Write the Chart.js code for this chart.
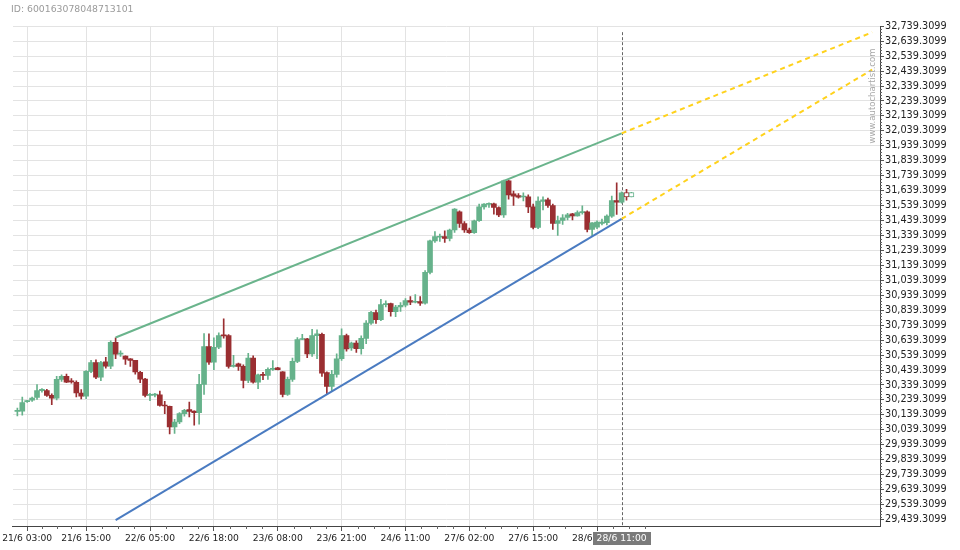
<!DOCTYPE html>
<html>
<head>
<meta charset="utf-8">
<script src="https://cdn.jsdelivr.net/npm/chart.js@4.4.1/dist/chart.umd.min.js"></script>
<style>
  html, body { margin: 0; padding: 0; background: #fff; }
  #wrap { width: 960px; height: 550px; }
</style>
</head>
<body>
<div id="wrap"><canvas id="myChart" width="960" height="550"></canvas></div>
<script>
// hourly candles, index 0 = 21/6 01:00
const opens = [30163,30165,30228,30237,30257,30302,30302,30270,30252,30377,30397,30364,30357,30286,30264,30430,30490,30392,30495,30466,
  30624,30546,30532,30515,30504,30424,30379,30270,30272,30274,30203,30197,30059,30092,30148,30175,30165,30155,30344,30597,
  30492,30592,30673,30670,30464,30481,30464,30370,30519,30359,30410,30404,30443,30454,30428,30277,30377,30497,30644,30648,
  30548,30670,30679,30422,30330,30410,30515,30670,30588,30619,30582,30651,30753,30824,30777,30877,30884,30830,30861,30873,
  30904,30893,30897,30886,31093,31304,31328,31333,31320,31376,31498,31420,31376,31358,31438,31531,31548,31552,31527,31478,
  31705,31618,31607,31597,31598,31531,31393,31568,31578,31540,31420,31440,31460,31484,31470,31492,31498,31380,31396,31420,
  31425,31469,31573,31563,31627,31598];
const highs = [30185,30259,30236,30259,30342,30315,30310,30281,30397,30408,30412,30382,30368,30308,30435,30504,30508,30497,30524,30635,
  30655,30568,30534,30516,30505,30430,30384,30284,30284,30299,30230,30198,30110,30155,30177,30225,30166,30410,30684,30682,
  30655,30689,30782,30677,30537,30486,30475,30552,30535,30412,30424,30455,30502,30457,30429,30392,30519,30657,30679,30652,
  30711,30709,30686,30428,30437,30548,30715,30680,30626,30635,30669,30771,30833,30840,30913,30903,30887,30873,30891,30917,
  30931,30944,30931,31104,31309,31365,31349,31371,31383,31520,31505,31433,31389,31443,31549,31553,31558,31556,31532,31710,
  31710,31636,31620,31625,31612,31549,31598,31598,31590,31549,31470,31480,31487,31487,31504,31538,31505,31426,31438,31449,
  31478,31603,31692,31631,31649,31628];
const lows = [30132,30137,30222,30230,30243,30292,30263,30208,30239,30364,30355,30352,30259,30246,30248,30422,30382,30368,30452,30448,
  30515,30530,30477,30464,30412,30355,30259,30235,30259,30197,30148,30012,30015,30081,30130,30125,30070,30077,30277,30477,
  30442,30582,30652,30452,30459,30437,30319,30355,30352,30315,30375,30377,30437,30440,30259,30270,30364,30488,30642,30522,
  30530,30515,30397,30282,30299,30392,30504,30566,30570,30558,30546,30615,30744,30752,30769,30862,30800,30797,30831,30861,
  30877,30889,30871,30880,31083,31294,31300,31293,31304,31360,31393,31360,31354,31354,31433,31516,31527,31483,31465,31460,
  31583,31540,31590,31570,31493,31383,31385,31510,31527,31380,31340,31413,31443,31443,31468,31482,31363,31331,31385,31411,
  31411,31460,31480,31556,31576,31597];
const closes = [30170,30221,30232,30252,30302,30310,30270,30252,30377,30397,30359,30360,30286,30264,30430,30490,30392,30490,30466,30624,
  30546,30550,30512,30504,30426,30379,30270,30274,30274,30203,30199,30059,30092,30148,30170,30163,30155,30344,30597,30492,
  30592,30670,30668,30464,30468,30464,30370,30519,30359,30408,30404,30444,30450,30442,30277,30377,30497,30644,30648,30548,
  30670,30682,30419,30330,30410,30515,30670,30580,30619,30582,30651,30753,30826,30777,30877,30884,30830,30861,30873,30904,
  30893,30897,30886,31093,31304,31333,31333,31320,31376,31516,31420,31376,31358,31438,31531,31549,31552,31527,31478,31705,
  31611,31603,31596,31602,31531,31393,31570,31578,31540,31420,31440,31458,31478,31470,31492,31497,31380,31425,31429,31429,
  31469,31573,31563,31625,31598,31627];
const liveFrom = 124; // candles still forming, drawn hollow

const xTickIdx = [2, 14, 27, 40, 53, 66, 79, 92, 105, 118];
const xTickLabels = ['21/6 03:00','21/6 15:00','22/6 05:00','22/6 18:00','23/6 08:00','23/6 21:00','24/6 11:00','27/6 02:00','27/6 15:00','28/6 06:00'];
const yTickVals = [29439.3099,29539.3099,29639.3099,29739.3099,29839.3099,29939.3099,30039.3099,30139.3099,30239.3099,30339.3099,
  30439.3099,30539.3099,30639.3099,30739.3099,30839.3099,30939.3099,31039.3099,31139.3099,31239.3099,31339.3099,
  31439.3099,31539.3099,31639.3099,31739.3099,31839.3099,31939.3099,32039.3099,32139.3099,32239.3099,32339.3099,
  32439.3099,32539.3099,32639.3099,32739.3099];

const upperLine = [[20, 30657], [123, 32023]];
const upperProj = [[123, 32023], [174, 32699]];
const lowerLine = [[20, 29436], [123, 31451]];
const lowerProj = [[123, 31451], [174, 32449]];

const cursorIdx = 123;
const cursorLabel = '28/6 11:00';
const chartId = 'ID: 600163078048713101';
const watermark = 'www.autochartist.com';

const UP = '#66b28b';
const DOWN = '#9a2e31';
const FONT = 'DejaVu Sans';

const isUp = (i) => closes[i] >= opens[i];
const candleColor = (i) => isUp(i) ? UP : DOWN;

const wickData = opens.map((o, i) => ({x: i, y: [lows[i], highs[i]]}));
const bodyData = opens.map((o, i) => ({x: i, y: [o, closes[i]]}));
const pts = (arr) => arr.map(p => ({x: p[0], y: p[1]}));

const decor = {
  id: 'decor',
  beforeDatasetsDraw(chart) {
    const {ctx, chartArea, scales} = chart;
    const x = Math.round(scales.x.getPixelForValue(cursorIdx)) + 0.5;
    ctx.save();
    ctx.strokeStyle = '#666';
    ctx.lineWidth = 1;
    ctx.setLineDash([3, 2]);
    ctx.beginPath();
    ctx.moveTo(x, chartArea.top + 6);
    ctx.lineTo(x, chartArea.bottom);
    ctx.stroke();
    ctx.restore();
  },
  afterDraw(chart) {
    const {ctx, chartArea, scales} = chart;
    const xs = scales.x, ys = scales.y;
    ctx.save();
    ctx.strokeStyle = '#666';
    ctx.lineWidth = 1;
    ctx.beginPath();
    // minor ticks on time axis
    for (let k = 0; k < xTickIdx.length; k++) {
      const a = xTickIdx[k];
      const b = k + 1 < xTickIdx.length ? xTickIdx[k + 1] : a + 13;
      for (let j = 1; j < 4; j++) {
        const px = Math.round(xs.getPixelForValue(a + (b - a) * j / 4)) + 0.5;
        ctx.moveTo(px, chartArea.bottom);
        ctx.lineTo(px, chartArea.bottom + 3);
      }
    }
    // minor ticks on price axis
    for (let k = 0; k < yTickVals.length - 1; k++) {
      for (let j = 1; j < 5; j++) {
        const py = Math.round(ys.getPixelForValue(yTickVals[k] + 20 * j)) + 0.5;
        ctx.moveTo(chartArea.right, py);
        ctx.lineTo(chartArea.right + 2, py);
      }
    }
    ctx.stroke();

    // current time box on the axis
    const cx = xs.getPixelForValue(cursorIdx);
    ctx.font = '9.2px ' + FONT;
    const w = ctx.measureText(cursorLabel).width + 8;
    ctx.fillStyle = '#7a7a7a';
    ctx.fillRect(Math.round(cx - w / 2), chartArea.bottom + 6, Math.round(w), 13);
    ctx.fillStyle = '#fff';
    ctx.textAlign = 'center';
    ctx.textBaseline = 'middle';
    ctx.fillText(cursorLabel, cx, chartArea.bottom + 13);

    // watermark
    ctx.translate(chartArea.right - 7, 96);
    ctx.rotate(-Math.PI / 2);
    ctx.font = '8.5px ' + FONT;
    ctx.fillStyle = '#a8a8a8';
    ctx.fillText(watermark, 0, 0);
    ctx.restore();
  }
};

new Chart(document.getElementById('myChart'), {
  type: 'bar',
  data: {
    datasets: [
      {
        type: 'line', data: pts(upperLine), borderColor: '#6ab48c', borderWidth: 2,
        pointRadius: 0, order: 0
      },
      {
        type: 'line', data: pts(lowerLine), borderColor: '#4a7bc1', borderWidth: 2,
        pointRadius: 0, order: 0
      },
      {
        type: 'line', data: pts(upperProj), borderColor: '#ffd21c', borderWidth: 2,
        borderDash: [5, 4], pointRadius: 0, order: 0
      },
      {
        type: 'line', data: pts(lowerProj), borderColor: '#ffd21c', borderWidth: 2,
        borderDash: [5, 4], pointRadius: 0, order: 0
      },
      {
        data: bodyData, order: 1, grouped: false, barThickness: 5, minBarLength: 1,
        backgroundColor: (c) => c.dataIndex >= liveFrom ? '#fff' : candleColor(c.dataIndex),
        borderColor: (c) => candleColor(c.dataIndex),
        borderWidth: (c) => c.dataIndex >= liveFrom ? 1 : 0,
        borderSkipped: false
      },
      {
        data: wickData, order: 2, grouped: false, barThickness: 1,
        backgroundColor: (c) => candleColor(c.dataIndex),
        borderWidth: 0
      }
    ]
  },
  options: {
    responsive: false,
    animation: false,
    layout: { padding: { left: 11, right: 0, top: 0, bottom: 0 } },
    plugins: {
      legend: { display: false },
      tooltip: { enabled: false },
      title: {
        display: true, text: chartId, align: 'start', color: '#9a9a9a',
        font: { family: FONT, size: 9.3, weight: 'normal' },
        padding: { top: 4, bottom: 11 }
      }
    },
    scales: {
      x: {
        type: 'linear', min: -0.89, max: 175.6, offset: false,
        grid: { color: '#e3e3e3', tickLength: 5, tickColor: '#555', offset: false },
        border: { color: '#444' },
        ticks: {
          autoSkip: false, maxRotation: 0, color: '#222', padding: 2,
          font: { family: FONT, size: 9.2 },
          callback: (v, i) => xTickLabels[i]
        },
        afterBuildTicks: (s) => { s.ticks = xTickIdx.map(v => ({value: v})); },
        afterFit: (s) => { s.height = 24; }
      },
      y: {
        type: 'linear', position: 'right', min: 29396, max: 32740,
        grid: { color: '#e3e3e3', tickLength: 4, tickColor: '#555' },
        border: { color: '#444' },
        ticks: {
          color: '#222', padding: 1,
          font: { family: FONT, size: 9.7 },
          callback: (v) => v.toLocaleString('en-US', {minimumFractionDigits: 4, maximumFractionDigits: 4})
        },
        afterBuildTicks: (s) => { s.ticks = yTickVals.map(v => ({value: v})); },
        afterFit: (s) => { s.width = 80; }
      }
    }
  },
  plugins: [decor]
});
</script>
</body>
</html>
